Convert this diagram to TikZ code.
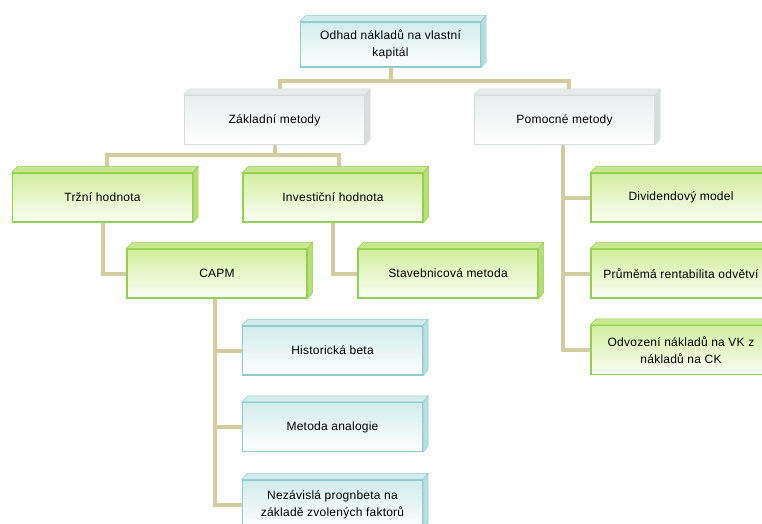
\documentclass[tikz,border=0pt]{standalone}
\usepackage{fontspec}
\setmainfont[LetterSpace=2.0]{Liberation Sans}

\definecolor{edgeC}{HTML}{8DCDCD}
\definecolor{fillC}{HTML}{D2ECEC}
\definecolor{topC}{HTML}{D3ECEC}
\definecolor{sideC}{HTML}{B8DEDE}
\definecolor{edgeG}{HTML}{D6DBDB}
\definecolor{fillG}{HTML}{E8EDED}
\definecolor{topG}{HTML}{E6EAEA}
\definecolor{sideG}{HTML}{D8DDDD}
\definecolor{edgeL}{HTML}{92D050}
\definecolor{fillL}{HTML}{D2EE9E}
\definecolor{topL}{HTML}{C8E890}
\definecolor{sideL}{HTML}{B8DE78}
\definecolor{linkcol}{HTML}{D1CD9F}

\begin{document}
\begin{tikzpicture}[x=1pt,y=-1pt,font=\fontsize{12}{17}\selectfont]
		\tikzstyle{box}=[rectangle,minimum width=180pt,minimum height=49pt,inner sep=0pt,align=center,line width=1.3pt]
		\tikzstyle{cyan box}=[box,draw=edgeC,top color=fillC,bottom color=white]
		\tikzstyle{grey box}=[box,draw=edgeG,top color=fillG,bottom color=white]
		\tikzstyle{lime box}=[box,draw=edgeL,top color=fillL,bottom color=white!92!fillL]
		\tikzstyle{link}=[draw=linkcol,line width=4pt]
		
		\useasboundingbox (0,0) rectangle (762,524);
		\clip (0,0) rectangle (762,524);
		
		% Draw the top of the tree
		\node[cyan box,minimum height=45pt] (odhad) at (390.5,44.5) {Odhad nákladů na vlastní\\kapitál};
		\node[grey box] (zakl) at (274.5,120) {Základní metody};
		\node[grey box] (pom) at (564.5,120) {Pomocné metody};
		
		% Draw the left branch
		\node[lime box] (trzni) at (102.5,197.5) {Tržní hodnota};
		\node[lime box] (invest) at (333,197.5) {Investiční hodnota};
		\node[lime box] (capm) at (217,273.5) {CAPM};
		\node[lime box] (stav) at (448,273.5) {Stavebnicová metoda};
		
		% Draw the CAPM methods
		\node[cyan box] (hist) at (332.5,350.5) {Historická beta};
		\node[cyan box] (analog) at (332.5,427) {Metoda analogie};
		\node[cyan box] (nezav) at (332.5,504.5) {Nezávislá prognbeta na\\základě zvolených faktorů};
		
		% Draw the right branch
		\node[lime box] (divid) at (681,197.5) {Dividendový model};
		\node[lime box] (prum) at (681,273.5) {Průměmá rentabilita odvětví};
		\node[lime box] (odvoz) at (681,350) {Odvození nákladů na VK z\\nákladů na CK};
		
		% Connect the levels
		\draw[link] (odhad.south) -- ++(0,13) -| ([xshift=5.5]zakl.north);
		\draw[link] (odhad.south) -- ++(0,13) -| ([xshift=4.5]pom.north);
		\draw[link] (zakl.south) -- ++(0,10) -| ([xshift=4.5]trzni.north);
		\draw[link] (zakl.south) -- ++(0,10) -| ([xshift=6]invest.north);
		\draw[link] (trzni.south) |- (capm.west);
		\draw[link] (invest.south) |- (stav.west);
		\foreach \dest in {hist,analog,nezav}
			\draw[link] ([xshift=-2]capm.south) |- (\dest.west);
		\foreach \dest in {divid,prum,odvoz}
			\draw[link] ([xshift=-1.5]pom.south) |- (\dest.west);
		
		% Give every box its bevel
		\foreach \n/\c in {odhad/C,zakl/G,pom/G,trzni/L,invest/L,capm/L,stav/L,hist/C,analog/C,nezav/C,divid/L,prum/L,odvoz/L}
		{
			\filldraw[fill=top\c,draw=edge\c,line width=0.5pt] (\n.north west) -- ++(6,-6) -- ([shift={(5,-6)}]\n.north east) -- (\n.north east) -- cycle;
			\filldraw[fill=side\c,draw=edge\c,line width=0.5pt] (\n.north east) -- ++(5,-6) -- ([shift={(5,-6)}]\n.south east) -- (\n.south east) -- cycle;
		}
	\end{tikzpicture}
\end{document}
